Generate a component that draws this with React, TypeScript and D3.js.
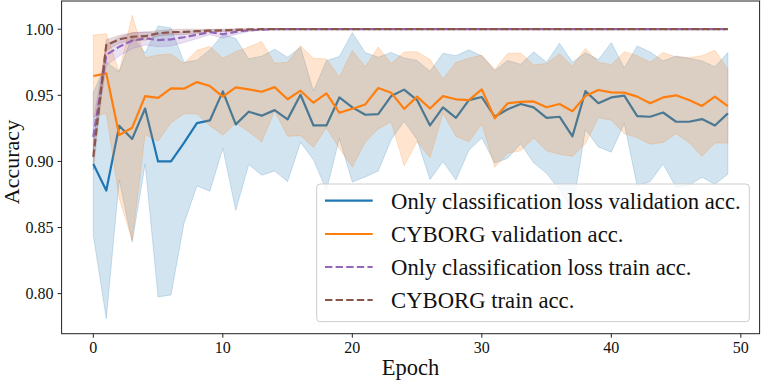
import React from 'react';
import * as d3 from 'd3';

const epochs = [0,1,2,3,4,5,6,7,8,9,10,11,12,13,14,15,16,17,18,19,20,21,22,23,24,25,26,27,28,29,30,31,32,33,34,35,36,37,38,39,40,41,42,43,44,45,46,47,48,49];

const onlyValMean = [0.898,0.878,0.927,0.917,0.940,0.900,0.900,0.914,0.929,0.931,0.953,0.928,0.9376,0.9346,0.9388,0.9318,0.9504,0.9272,0.9272,0.9484,0.9409,0.9353,0.9358,0.9494,0.9543,0.9464,0.9272,0.9409,0.933,0.9464,0.9487,0.9338,0.9394,0.9434,0.9409,0.933,0.9338,0.919,0.9532,0.944,0.9484,0.9497,0.9343,0.9338,0.937,0.930,0.930,0.932,0.9272,0.9363];
const onlyValStd = [0.054,0.097,0.041,0.078,0.042,0.1025,0.101,0.061,0.0475,0.0535,0.043,0.065,0.040,0.045,0.046,0.047,0.036,0.026,0.049,0.031,0.0565,0.047,0.043,0.033,0.024,0.030,0.041,0.041,0.047,0.038,0.031,0.035,0.037,0.030,0.042,0.042,0.0555,0.056,0.029,0.033,0.0414,0.021,0.053,0.049,0.039,0.0497,0.048,0.044,0.0444,0.046];

const cyborgValMean = [0.9646,0.9666,0.920,0.9255,0.9494,0.948,0.9553,0.955,0.960,0.957,0.949,0.956,0.9545,0.9527,0.9562,0.947,0.9535,0.9444,0.9515,0.9368,0.9398,0.9431,0.9555,0.952,0.9397,0.949,0.940,0.9494,0.947,0.9464,0.9545,0.9326,0.944,0.945,0.9454,0.941,0.9434,0.938,0.9494,0.954,0.9522,0.952,0.949,0.944,0.9484,0.950,0.9464,0.942,0.949,0.9419];
const cyborgValStd = [0.031,0.030,0.048,0.085,0.029,0.0325,0.026,0.019,0.024,0.030,0.029,0.027,0.032,0.038,0.018,0.028,0.034,0.0336,0.026,0.027,0.044,0.0285,0.031,0.022,0.043,0.034,0.037,0.013,0.028,0.0316,0.026,0.037,0.0377,0.037,0.0276,0.033,0.038,0.034,0.036,0.021,0.021,0.031,0.031,0.031,0.034,0.029,0.032,0.038,0.035,0.028];

const onlyTrainMean = [0.9186,0.9805,0.9868,0.9913,0.9931,0.9918,0.9923,0.9939,0.9958,0.9978,0.9962,0.998,0.9992,0.9997,1,1,1,1,1,1,1,1,1,1,1,1,1,1,1,1,1,1,1,1,1,1,1,1,1,1,1,1,1,1,1,1,1,1,1,1];
const onlyTrainStd = [0.012,0.008,0.007,0.006,0.005,0.005,0.005,0.004,0.003,0.002,0.003,0.002,0.001,0.0005,0,0,0,0,0,0,0,0,0,0,0,0,0,0,0,0,0,0,0,0,0,0,0,0,0,0,0,0,0,0,0,0,0,0,0,0];

const cyborgTrainMean = [0.9035,0.988,0.9923,0.9943,0.9947,0.9969,0.9977,0.998,0.9985,0.9989,0.9991,0.9995,0.9998,1,1,1,1,1,1,1,1,1,1,1,1,1,1,1,1,1,1,1,1,1,1,1,1,1,1,1,1,1,1,1,1,1,1,1,1,1];
const cyborgTrainStd = [0.010,0.004,0.003,0.003,0.003,0.002,0.002,0.002,0.0015,0.001,0.001,0.0008,0.0005,0,0,0,0,0,0,0,0,0,0,0,0,0,0,0,0,0,0,0,0,0,0,0,0,0,0,0,0,0,0,0,0,0,0,0,0,0];

const xTicks = [0, 10, 20, 30, 40, 50];
const yTicks = [0.80, 0.85, 0.90, 0.95, 1.00];

const seriesLabels = [
  'Only classification loss validation acc.',
  'CYBORG validation acc.',
  'Only classification loss train acc.',
  'CYBORG train acc.',
];

const colors = ['#1f77b4', '#ff7f0e', '#9467bd', '#8c564b'];
const dashed = [false, false, true, true];

const W = 761, H = 381;
const L = 61.6, R = 759.6, T = 1, B = 333.7;
const FONT = '"Liberation Serif", "DejaVu Serif", serif';

export default function App() {
  const x = d3.scaleLinear().domain([-2.45, 51.45]).range([L, R]);
  const y = d3.scaleLinear().domain([0.7697, 1.02133]).range([B, T]);

  const series = [
    { mean: onlyValMean, std: onlyValStd },
    { mean: cyborgValMean, std: cyborgValStd },
    { mean: onlyTrainMean, std: onlyTrainStd },
    { mean: cyborgTrainMean, std: cyborgTrainStd },
  ];

  const line = (m: number[]) =>
    d3.line<number>().x((_, i) => x(epochs[i])).y((d) => y(d))(m) as string;
  const area = (m: number[], s: number[]) =>
    d3
      .area<number>()
      .x((_, i) => x(epochs[i]))
      .y0((d, i) => y(d - s[i]))
      .y1((d, i) => y(d + s[i]))(m) as string;

  const dash = '7.4 3.2';
  const lw = 2.2;

  const legX = 316.7, legY = 184, legW = 432.6, legH = 137.7;
  const rowY = [200.7, 234, 267, 300];

  return (
    <svg width={W} height={H} style={{ position: 'absolute', left: 0, top: 0, background: '#fff' }}>
      <defs>
        <clipPath id="plotclip">
          <rect x={L} y={T} width={R - L} height={B - T} />
        </clipPath>
      </defs>
      <rect x={0} y={0} width={W} height={H} fill="#fff" />
      <g clipPath="url(#plotclip)">
        {series.map((s, k) => (
          <g key={k}>
            <path
              d={line(s.mean)}
              fill="none"
              stroke={colors[k]}
              strokeWidth={lw}
              strokeDasharray={dashed[k] ? dash : undefined}
              strokeLinejoin="round"
            />
            <path
              d={area(s.mean, s.std)}
              fill={colors[k]}
              fillOpacity={0.2}
              stroke={colors[k]}
              strokeOpacity={0.2}
              strokeWidth={1}
            />
          </g>
        ))}
      </g>
      {/* spines */}
      <rect x={L} y={T} width={R - L} height={B - T} fill="none" stroke="#222" strokeWidth={1} />
      {/* x ticks */}
      {xTicks.map((t) => (
        <g key={'x' + t}>
          <line x1={x(t)} x2={x(t)} y1={B} y2={B + 4} stroke="#222" strokeWidth={1} />
          <text x={x(t)} y={353.3} textAnchor="middle" fontFamily={FONT} fontSize={16} fill="#111">
            {t}
          </text>
        </g>
      ))}
      {/* y ticks */}
      {yTicks.map((t) => (
        <g key={'y' + t}>
          <line x1={L - 4} x2={L} y1={y(t)} y2={y(t)} stroke="#222" strokeWidth={1} />
          <text x={53.5} y={y(t) + 5.6} textAnchor="end" fontFamily={FONT} fontSize={16} fill="#111">
            {t.toFixed(2)}
          </text>
        </g>
      ))}
      <text x={(L + R) / 2} y={375} textAnchor="middle" fontFamily={FONT} fontSize={22.5} fill="#111">
        Epoch
      </text>
      <text
        transform={`translate(18.5, 162) rotate(-90)`}
        textAnchor="middle"
        fontFamily={FONT}
        fontSize={22}
        fill="#111"
      >
        Accuracy
      </text>
      {/* legend */}
      <rect
        x={legX}
        y={legY}
        width={legW}
        height={legH}
        rx={3.5}
        fill="#fff"
        fillOpacity={0.8}
        stroke="#cccccc"
        strokeWidth={1}
      />
      {seriesLabels.map((lab, k) => (
        <g key={'l' + k}>
          <line
            x1={325}
            x2={372.7}
            y1={rowY[k]}
            y2={rowY[k]}
            stroke={colors[k]}
            strokeWidth={lw}
            strokeDasharray={dashed[k] ? dash : undefined}
          />
          <text x={391} y={rowY[k] + 8.3} fontFamily={FONT} fontSize={22.7} fill="#111">
            {lab}
          </text>
        </g>
      ))}
    </svg>
  );
}
